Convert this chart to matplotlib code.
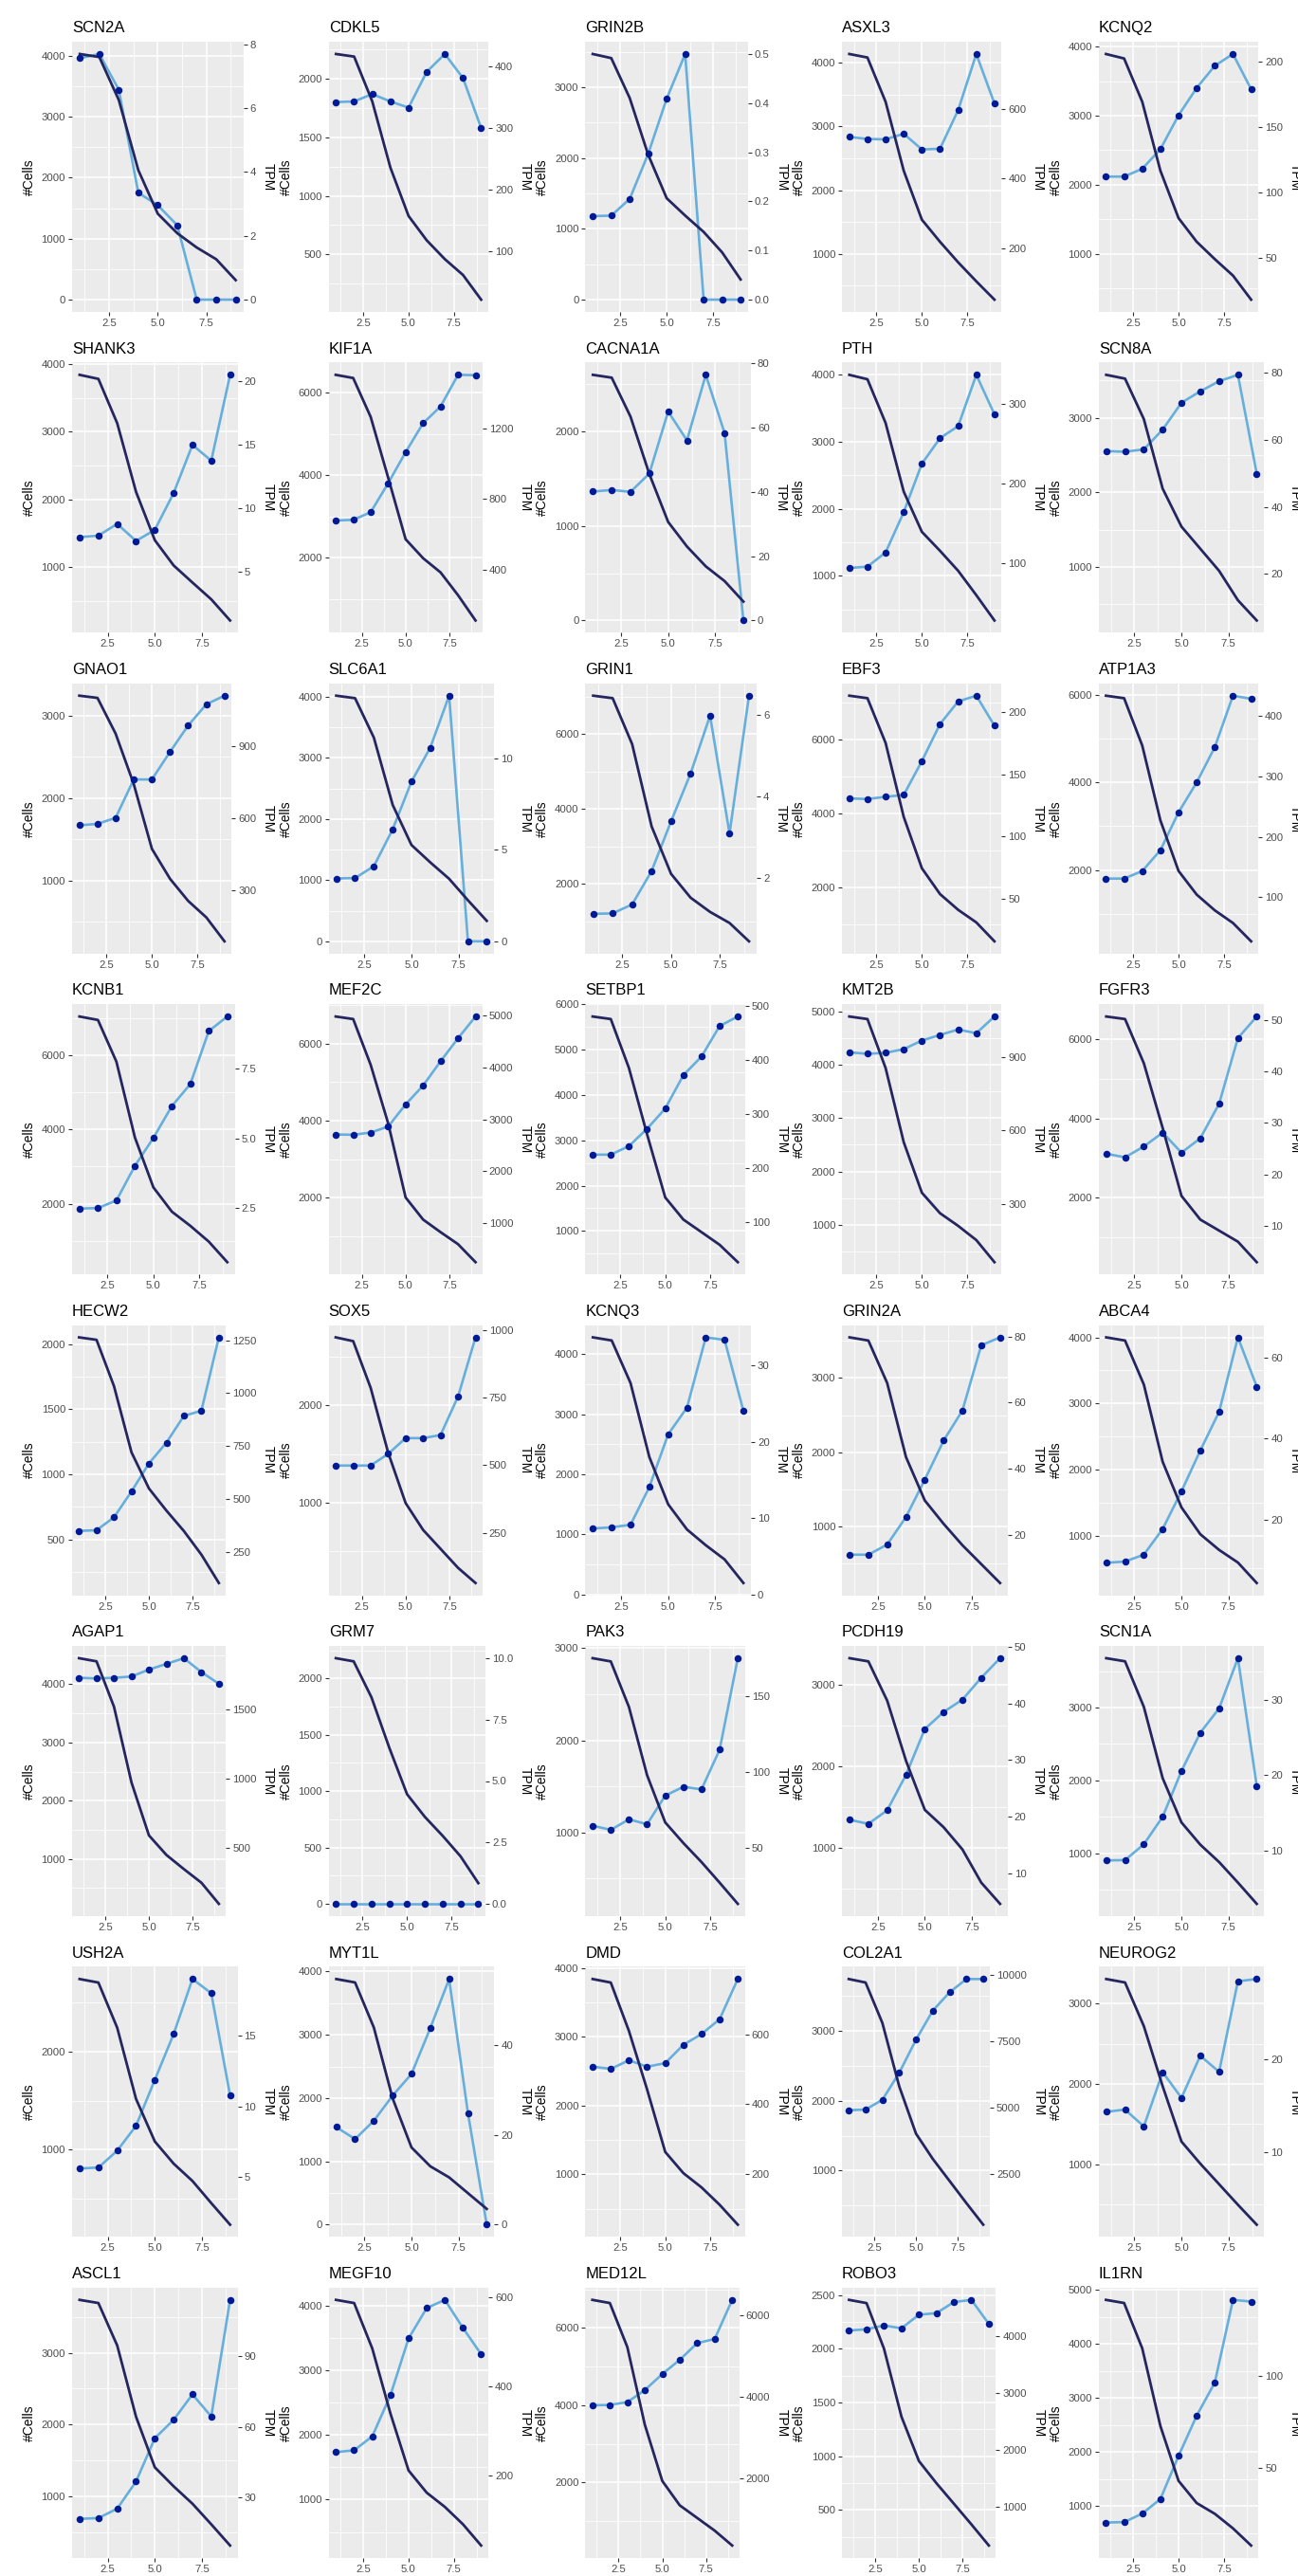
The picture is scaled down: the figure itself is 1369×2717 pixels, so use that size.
import matplotlib
matplotlib.use("Agg")
import matplotlib.pyplot as plt
from matplotlib.ticker import AutoMinorLocator

plt.rcParams["font.family"] = ["Liberation Sans", "DejaVu Sans"]

# x positions (1..9) shared by every panel
STEPS = [1, 2, 3, 4, 5, 6, 7, 8, 9]
X_TICKS = [2.5, 5.0, 7.5]

GENES = [
    "SCN2A", "CDKL5", "GRIN2B", "ASXL3", "KCNQ2",
    "SHANK3", "KIF1A", "CACNA1A", "PTH", "SCN8A",
    "GNAO1", "SLC6A1", "GRIN1", "EBF3", "ATP1A3",
    "KCNB1", "MEF2C", "SETBP1", "KMT2B", "FGFR3",
    "HECW2", "SOX5", "KCNQ3", "GRIN2A", "ABCA4",
    "AGAP1", "GRM7", "PAK3", "PCDH19", "SCN1A",
    "USH2A", "MYT1L", "DMD", "COL2A1", "NEUROG2",
    "ASCL1", "MEGF10", "MED12L", "ROBO3", "IL1RN",
]

# number of cells (left axis), one row per gene
CELLS = [
    [4030, 3980, 3275, 2125, 1410, 1090, 855, 663, 320],
    [2212, 2190, 1807, 1241, 828, 620, 459, 324, 113],
    [3471, 3413, 2848, 2047, 1433, 1188, 957, 668, 285],
    [4135, 4080, 3386, 2305, 1537, 1190, 868, 570, 283],
    [3895, 3830, 3202, 2203, 1516, 1173, 921, 683, 334],
    [3840, 3780, 3126, 2114, 1400, 1027, 775, 527, 215],
    [6429, 6352, 5410, 3939, 2444, 1985, 1640, 1088, 475],
    [2600, 2570, 2157, 1550, 1043, 783, 573, 417, 200],
    [3995, 3929, 3278, 2255, 1656, 1373, 1075, 712, 335],
    [3578, 3527, 2983, 2049, 1539, 1242, 945, 550, 278],
    [3246, 3219, 2785, 2171, 1384, 1019, 750, 550, 259],
    [4015, 3974, 3329, 2230, 1574, 1290, 1022, 671, 335],
    [7021, 6954, 5730, 3536, 2270, 1637, 1257, 962, 473],
    [7174, 7106, 5898, 3898, 2511, 1813, 1387, 1047, 536],
    [5986, 5928, 4845, 3134, 1978, 1437, 1076, 787, 368],
    [7036, 6943, 5822, 3784, 2442, 1788, 1406, 981, 429],
    [6705, 6639, 5451, 3934, 2008, 1434, 1107, 795, 328],
    [5731, 5675, 4596, 3134, 1741, 1253, 975, 696, 313],
    [4911, 4863, 3944, 2549, 1599, 1214, 976, 709, 294],
    [6574, 6510, 5394, 3761, 2048, 1450, 1171, 892, 375],
    [2053, 2034, 1678, 1170, 892, 722, 565, 384, 166],
    [2701, 2662, 2182, 1516, 997, 721, 526, 331, 175],
    [4277, 4225, 3518, 2288, 1503, 1084, 822, 586, 194],
    [3547, 3504, 2932, 1936, 1352, 1038, 750, 496, 242],
    [4001, 3953, 3286, 2117, 1426, 1020, 782, 591, 281],
    [4448, 4394, 3614, 2315, 1405, 1069, 826, 593, 230],
    [2179, 2151, 1832, 1385, 972, 771, 603, 422, 184],
    [2892, 2857, 2362, 1621, 1107, 883, 676, 452, 222],
    [3326, 3287, 2806, 2070, 1469, 1256, 984, 578, 318],
    [3678, 3635, 3009, 2030, 1422, 1117, 878, 596, 304],
    [2742, 2706, 2245, 1519, 1084, 858, 681, 455, 235],
    [3880, 3826, 3113, 1993, 1220, 922, 747, 498, 249],
    [3838, 3787, 3084, 2235, 1326, 1018, 811, 558, 269],
    [3742, 3692, 3113, 2208, 1529, 1167, 851, 534, 226],
    [3307, 3264, 2720, 1972, 1283, 1008, 752, 496, 248],
    [3736, 3692, 3101, 2110, 1405, 1141, 899, 612, 317],
    [4088, 4039, 3337, 2333, 1451, 1108, 888, 619, 291],
    [6730, 6648, 5508, 3500, 2041, 1410, 1082, 754, 369],
    [2454, 2424, 2000, 1367, 954, 748, 557, 365, 168],
    [4814, 4756, 3918, 2483, 1470, 1060, 861, 592, 275],
]

# expression (right axis)
TPM = [
    [7.57, 7.70, 6.58, 3.35, 2.96, 2.33, 0, 0, 0],
    [342, 343, 355, 343, 333, 391, 420, 381, 300],
    [0.170, 0.171, 0.205, 0.297, 0.409, 0.500, 0, 0, 0],
    [519, 513, 512, 528, 483, 485, 596, 757, 615],
    [112, 112, 118, 133, 159, 180, 197, 206, 179],
    [7.70, 7.82, 8.74, 7.40, 8.27, 11.17, 14.95, 13.71, 20.46],
    [677, 681, 724, 888, 1064, 1228, 1323, 1502, 1500],
    [40.1, 40.6, 40.0, 45.7, 65.0, 56.0, 76.4, 58.3, 0],
    [94, 95.7, 113.5, 164, 224.8, 256.8, 271.9, 336.2, 286.7],
    [56.6, 56.4, 57.1, 63.0, 71.0, 74.4, 77.4, 79.3, 49.9],
    [572, 578, 603, 763, 763, 878, 988, 1076, 1112],
    [3.44, 3.46, 4.11, 6.13, 8.74, 10.60, 13.44, 0, 0],
    [1.11, 1.12, 1.34, 2.16, 3.38, 4.55, 5.97, 3.08, 6.46],
    [130.7, 130.2, 132, 133.5, 160.7, 190.4, 208.6, 213.2, 189.1],
    [130.7, 130.7, 143.2, 177.7, 240.5, 290.1, 348.7, 433.9, 428.7],
    [2.49, 2.51, 2.78, 4.02, 5.02, 6.16, 6.95, 8.85, 9.37],
    [2709, 2703, 2746, 2862, 3288, 3653, 4122, 4566, 4986],
    [225.4, 225.4, 241.2, 273.3, 310.7, 372.6, 407, 463.6, 481.2],
    [919, 913, 917, 932, 967, 990, 1012, 997, 1065],
    [24.0, 23.3, 25.4, 28.1, 24.2, 27.0, 33.7, 46.5, 50.7],
    [348.7, 351.7, 412.8, 535, 667.7, 766, 892.7, 916.5, 1263.8],
    [498.8, 498.8, 498.8, 542, 600.5, 600.5, 612, 754.7, 974.3],
    [8.67, 8.83, 9.16, 14.11, 21.01, 24.51, 33.72, 33.39, 24.1],
    [14.0, 14.0, 17.05, 25.4, 36.7, 48.5, 57.6, 77.3, 79.7],
    [9.52, 9.83, 11.52, 17.84, 27.09, 37.1, 46.6, 64.9, 52.8],
    [1725, 1720, 1725, 1734, 1784, 1825, 1866, 1766, 1682],
    [0, 0, 0, 0, 0, 0, 0, 0, 0],
    [64.8, 62.1, 69.0, 65.8, 84.6, 90.4, 88.75, 114.8, 175],
    [19.44, 18.72, 21.12, 27.37, 35.47, 38.49, 40.67, 44.53, 47.99],
    [8.70, 8.74, 10.84, 14.49, 20.57, 25.64, 28.87, 35.53, 18.6],
    [5.60, 5.67, 6.86, 8.62, 11.87, 15.11, 19.0, 18.0, 10.77],
    [21.7, 19.02, 23.1, 28.7, 33.5, 43.7, 54.6, 24.8, 0],
    [508.4, 502, 526.7, 508.4, 518.5, 571.3, 602.3, 645.1, 760.8],
    [4905, 4929, 5298, 6310, 7560, 8655, 9345, 9845, 9845],
    [14.3, 14.54, 12.73, 18.57, 15.8, 20.34, 18.6, 28.36, 28.6],
    [21.0, 21.3, 25.3, 36.8, 55.2, 63.0, 73.8, 64.4, 113.9],
    [251.8, 256, 287.2, 379.4, 507, 575.2, 593.6, 530.5, 471.6],
    [3787, 3795, 3865, 4159, 4553, 4901, 5311, 5412, 6371],
    [4100, 4122, 4189, 4139, 4378, 4406, 4600, 4639, 4217],
    [20.5, 20.7, 25.3, 33.2, 56.5, 78.25, 96.2, 140.9, 140],
]

CELL_TICKS = [
    [0, 1000, 2000, 3000, 4000], [500, 1000, 1500, 2000], [0, 1000, 2000, 3000],
    [1000, 2000, 3000, 4000], [1000, 2000, 3000, 4000],
    [1000, 2000, 3000, 4000], [2000, 4000, 6000], [0, 1000, 2000],
    [1000, 2000, 3000, 4000], [1000, 2000, 3000],
    [1000, 2000, 3000], [0, 1000, 2000, 3000, 4000], [2000, 4000, 6000],
    [2000, 4000, 6000], [2000, 4000, 6000],
    [2000, 4000, 6000], [2000, 4000, 6000], [1000, 2000, 3000, 4000, 5000, 6000],
    [1000, 2000, 3000, 4000, 5000], [2000, 4000, 6000],
    [500, 1000, 1500, 2000], [1000, 2000], [0, 1000, 2000, 3000, 4000],
    [1000, 2000, 3000], [1000, 2000, 3000, 4000],
    [1000, 2000, 3000, 4000], [0, 500, 1000, 1500, 2000], [1000, 2000, 3000],
    [1000, 2000, 3000], [1000, 2000, 3000],
    [1000, 2000], [0, 1000, 2000, 3000, 4000], [1000, 2000, 3000, 4000],
    [1000, 2000, 3000], [1000, 2000, 3000],
    [1000, 2000, 3000], [1000, 2000, 3000, 4000], [2000, 4000, 6000],
    [500, 1000, 1500, 2000, 2500], [1000, 2000, 3000, 4000, 5000],
]

TPM_TICKS = [
    [0, 2, 4, 6, 8], [100, 200, 300, 400], [0, 0.1, 0.2, 0.3, 0.4, 0.5],
    [200, 400, 600], [50, 100, 150, 200],
    [5, 10, 15, 20], [400, 800, 1200], [0, 20, 40, 60, 80],
    [100, 200, 300], [20, 40, 60, 80],
    [300, 600, 900], [0, 5, 10], [2, 4, 6],
    [50, 100, 150, 200], [100, 200, 300, 400],
    [2.5, 5.0, 7.5], [1000, 2000, 3000, 4000, 5000], [100, 200, 300, 400, 500],
    [300, 600, 900], [10, 20, 30, 40, 50],
    [250, 500, 750, 1000, 1250], [250, 500, 750, 1000], [0, 10, 20, 30],
    [20, 40, 60, 80], [20, 40, 60],
    [500, 1000, 1500], [0.0, 2.5, 5.0, 7.5, 10.0], [50, 100, 150],
    [10, 20, 30, 40, 50], [10, 20, 30],
    [5, 10, 15], [0, 20, 40], [200, 400, 600],
    [2500, 5000, 7500, 10000], [10, 20],
    [30, 60, 90], [200, 400, 600], [2000, 4000, 6000],
    [1000, 2000, 3000, 4000], [50, 100],
]

NAVY = "#25255f"
LIGHT = "#66afdc"
DOT = "#001a96"
PANEL_BG = "#EBEBEB"
TICK_TXT = "#4D4D4D"

FIG_W, FIG_H = 1369, 2717


def fmt(ticks):
    if all(float(t).is_integer() for t in ticks):
        return [f"{int(t)}" for t in ticks]
    return [f"{t:.1f}" for t in ticks]


def label_width(labels):
    # rough pixel width of the longest right-axis label (8pt Arial-ish)
    widths = [sum(3.1 if ch == "." else 6.2 for ch in s) for s in labels]
    return max(widths)


def style_ticks(axis):
    axis.tick_params(which="major", length=3, width=0.8, color="#333333",
                     labelsize=8.2, labelcolor=TICK_TXT, pad=2)


def draw_panel(fig, idx):
    r, c = divmod(idx, 5)
    cells = CELLS[idx]
    tpm = TPM[idx]
    rlabels = fmt(TPM_TICKS[idx])

    left = 76 + 270.7 * c
    width = 187 - label_width(rlabels)
    top = 44 + 338.4 * r
    height = 285
    ax = fig.add_axes([left / FIG_W, 1 - (top + height) / FIG_H,
                       width / FIG_W, height / FIG_H])
    ax.set_facecolor(PANEL_BG)

    # TPM is drawn on the #Cells scale, like a ggplot sec_axis
    tmax = max(tpm) if max(tpm) > 0 else 10
    f = max(cells) / tmax
    scaled = [v * f for v in tpm]

    ax.plot(STEPS, scaled, color=LIGHT, lw=1.9, zorder=2)
    ax.plot(STEPS, cells, color=NAVY, lw=2.0, zorder=3)
    ax.plot(STEPS, scaled, "o", color=DOT, ms=5.4, mew=0, zorder=4)
    ax.margins(x=0.05, y=0.05)

    ax.set_xticks(X_TICKS, labels=fmt(X_TICKS))
    ax.set_yticks(CELL_TICKS[idx], labels=fmt(CELL_TICKS[idx]))
    ax.xaxis.set_minor_locator(AutoMinorLocator(2))
    ax.yaxis.set_minor_locator(AutoMinorLocator(2))
    ax.grid(which="major", color="white", lw=1.1)
    ax.grid(which="minor", color="white", lw=0.55)
    ax.set_axisbelow(True)
    for s in ax.spines.values():
        s.set_visible(False)
    ax.tick_params(which="minor", length=0)
    style_ticks(ax)

    lo, hi = ax.get_ylim()
    ax2 = ax.twinx()
    ax2.set_ylim(lo / f, hi / f)
    ax2.set_yticks(TPM_TICKS[idx], labels=rlabels)
    ax2.set_ylim(lo / f, hi / f)
    style_ticks(ax2)
    for s in ax2.spines.values():
        s.set_visible(False)
    ax2.set_ylabel("TPM", rotation=270, va="bottom", fontsize=10, labelpad=4)

    ax.set_ylabel("#Cells", fontsize=10, labelpad=4)
    ax.set_title(GENES[idx], loc="left", fontsize=12, pad=7)


fig = plt.figure(figsize=(FIG_W / 100, FIG_H / 100), dpi=100)
for i in range(len(GENES)):
    draw_panel(fig, i)

fig.savefig("out.png", dpi=100, facecolor="white")
